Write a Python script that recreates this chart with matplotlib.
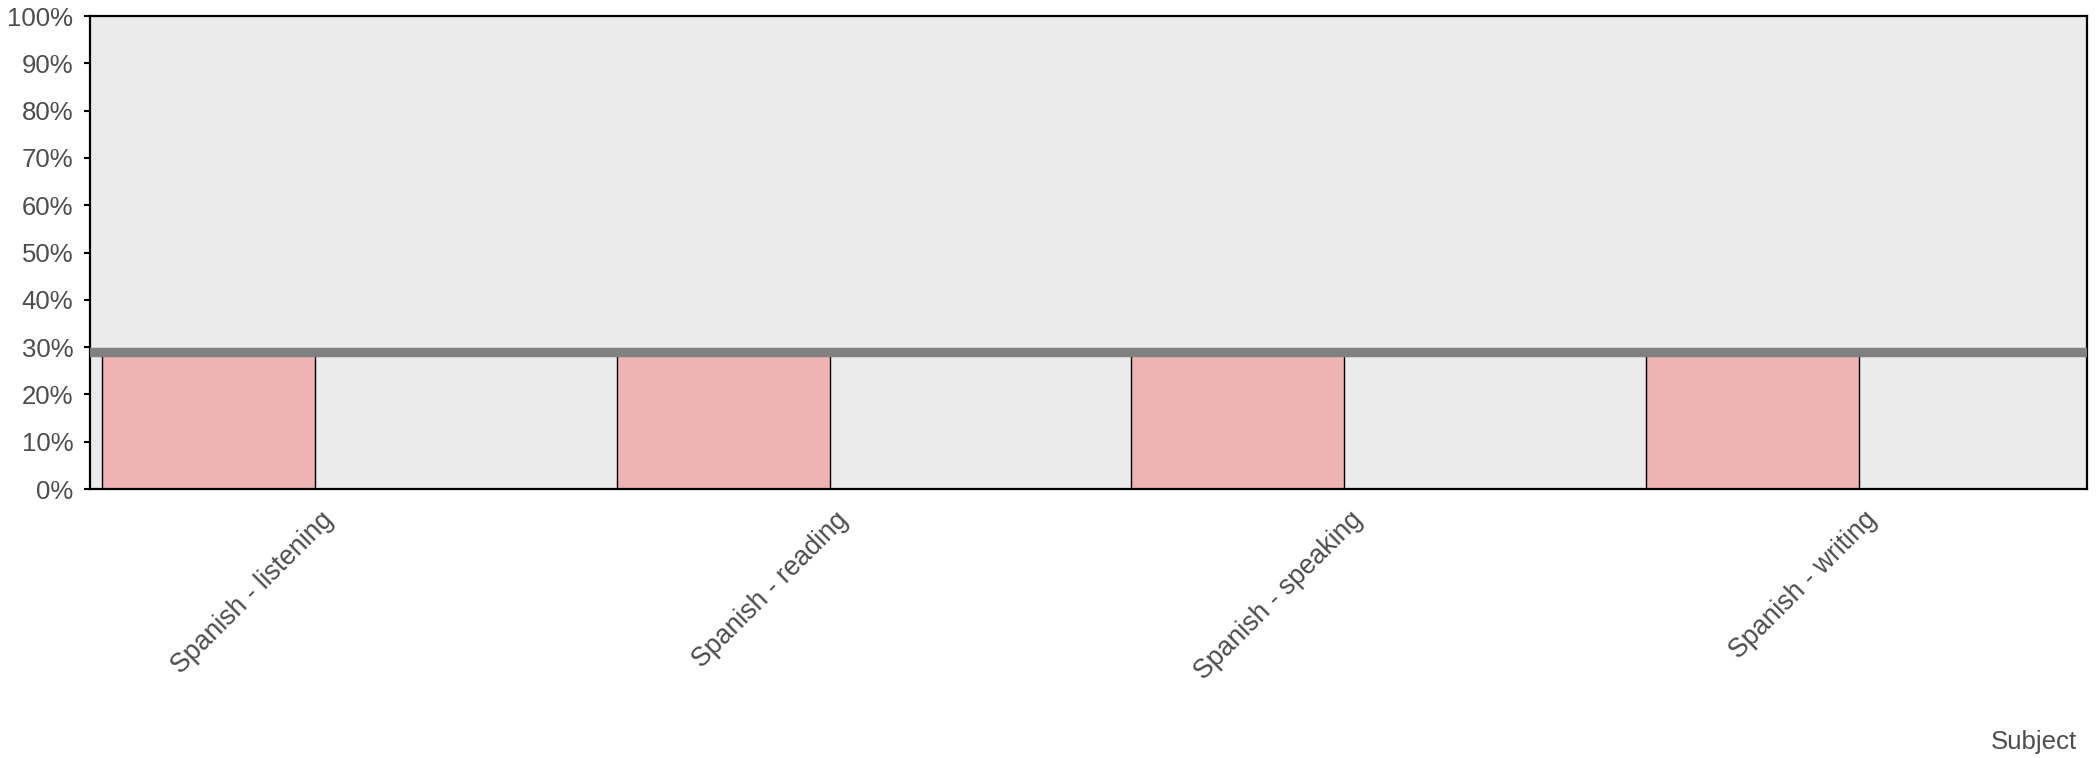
import matplotlib
matplotlib.use("Agg")
import matplotlib.pyplot as plt
import matplotlib.transforms as mtransforms
import numpy as np

plt.rcParams['font.family'] = ['Liberation Sans', 'DejaVu Sans']

categories = ["Spanish - listening", "Spanish - reading", "Spanish - speaking", "Spanish - writing"]
values = [0.289, 0.289, 0.289, 0.289]
other_values = [0.0, 0.0, 0.0, 0.0]
reference_line = 0.289
y_ticks = [0.0, 0.1, 0.2, 0.3, 0.4, 0.5, 0.6, 0.7, 0.8, 0.9, 1.0]
y_tick_labels = ["0%", "10%", "20%", "30%", "40%", "50%", "60%", "70%", "80%", "90%", "100%"]
x_label = "Subject"

W, H = 2098, 758
fig = plt.figure(figsize=(W / 100, H / 100), dpi=100)
ax = fig.add_axes([90 / W, 1 - 489 / H, (2087 - 90) / W, (489 - 16) / H])
ax.set_facecolor('#ebebeb')

x = np.arange(len(categories))
bw = 0.414
ax.bar(x - bw, values, width=bw, align='edge', color='#f0b3b3', edgecolor='black', linewidth=1.0, zorder=2)
ax.bar(x, other_values, width=bw, align='edge', color='#f0b3b3', edgecolor='none', linewidth=0, zorder=2)
ax.axhline(reference_line, color='#808080', linewidth=6.8, zorder=3)

ax.set_xlim(-0.437, 3.443)
ax.set_ylim(0, 1.0)
ax.set_yticks(y_ticks)
ax.set_yticklabels(y_tick_labels)
ax.set_xticks(x)
ax.set_xticklabels(categories, rotation=45, ha='right', va='top', rotation_mode='anchor')

ax.tick_params(axis='y', length=4, width=1.5, color='black', labelsize=18.5, labelcolor='#4d4d4d', pad=8)
ax.tick_params(axis='x', length=0, labelsize=19.2, labelcolor='#4d4d4d', pad=13)
offset = mtransforms.ScaledTranslation(5 / 100, 0, fig.dpi_scale_trans)
for lbl in ax.get_xticklabels():
    lbl.set_transform(lbl.get_transform() + offset)
for s in ax.spines.values():
    s.set_color('black')
    s.set_linewidth(1.6)

fig.text(2077 / W, 1 - 742 / H, x_label, ha='right', va='center', fontsize=18.6, color='#4d4d4d')

fig.savefig('out.png', dpi=100)
